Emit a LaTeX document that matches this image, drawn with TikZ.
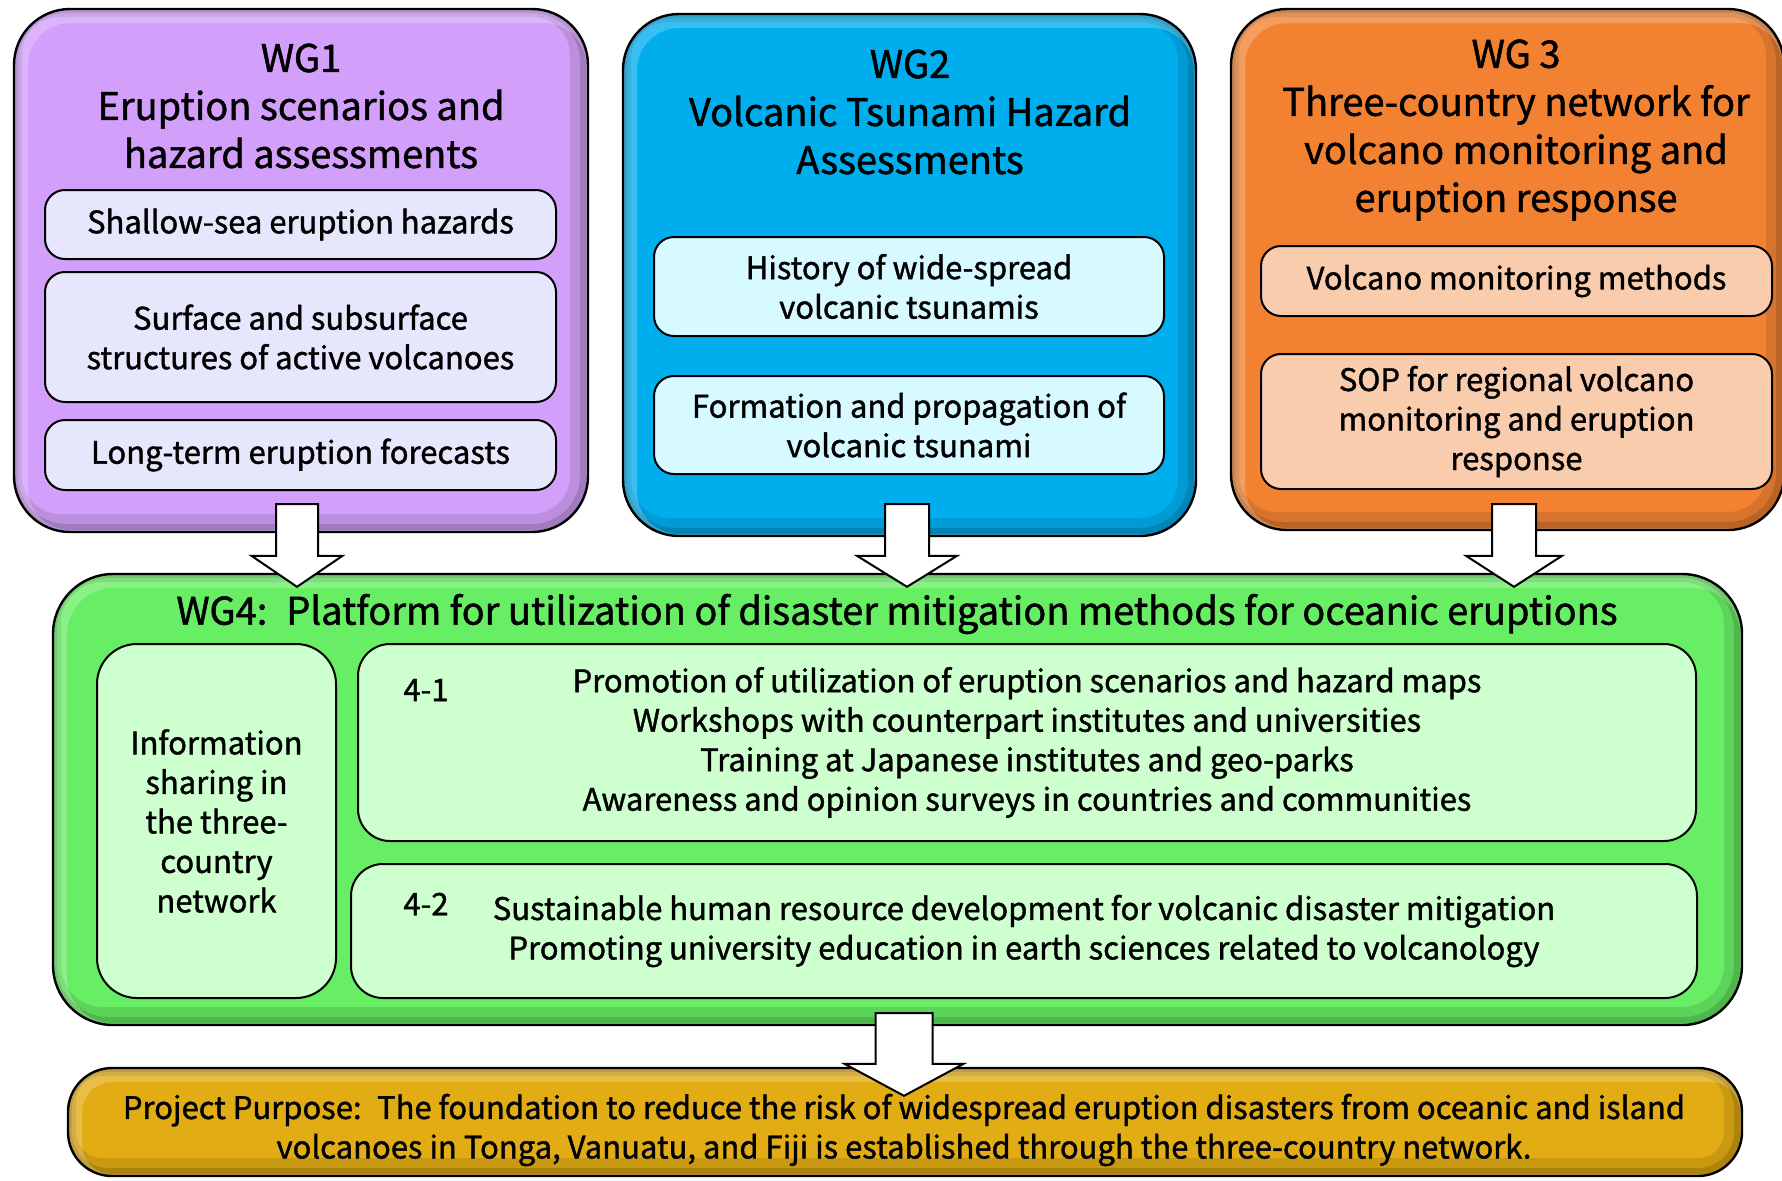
\documentclass[tikz,border=0pt]{standalone}
\usepackage{fontspec}
\setmainfont{Noto Sans CJK JP}[FakeBold=1.3]
\usetikzlibrary{positioning, calc}

\definecolor{wgpurple}{RGB}{210,160,250}
\definecolor{wgpurpleitem}{RGB}{230,230,252}
\definecolor{wgblue}{RGB}{0,174,238}
\definecolor{wgblueitem}{RGB}{214,250,255}
\definecolor{wgorange}{RGB}{242,130,50}
\definecolor{wgorangeitem}{RGB}{250,204,174}
\definecolor{wggreen}{RGB}{104,238,100}
\definecolor{wggreenitem}{RGB}{206,255,206}
\definecolor{purposegold}{RGB}{226,172,20}

\newcommand{\bodyfont}{\fontsize{15.5}{19.75}\selectfont}
\newcommand{\headfont}{\fontsize{19}{24}\selectfont}

\begin{document}
\begin{tikzpicture}[
    x=0.5pt, y=-0.5pt,
    wgbox/.style 2 args={rectangle, rounded corners=#2, draw=black, line width=1.2pt, fill=#1, inner sep=0pt,
      path picture={
        % dark rim along bottom and right, light rim along top and left
        \draw[#1!40!black, opacity=.18, line width=18pt, rounded corners=#2]
          ([xshift=-5pt]path picture bounding box.south west) rectangle ([yshift=5pt]path picture bounding box.north east);
        \draw[#1!40!black, opacity=.25, line width=8pt, rounded corners=#2]
          ([xshift=-2pt]path picture bounding box.south west) rectangle ([yshift=2pt]path picture bounding box.north east);
        \draw[white, opacity=.22, line width=14pt, rounded corners=#2]
          ([yshift=-6pt]path picture bounding box.south west) rectangle ([xshift=6pt]path picture bounding box.north east);
      }},
    item/.style={rectangle, rounded corners=10pt, draw=black, line width=1pt, fill=#1, inner sep=0pt, align=center, font=\bodyfont},
    wghead/.style={align=center, font=\headfont},
    note/.style={align=center, font=\bodyfont},
    fatarrow/.style n args={3}{draw=black, line width=1pt, fill=white, line join=miter,
      to path={let \p1=(\tikztostart), \p2=(\tikztotarget) in
        (\x1-#1,\y1) -- (\x1+#1,\y1) -- (\x1+#1,\y2+#3) -- (\x1+#2,\y2+#3) -- (\x1,\y2)
        -- (\x1-#2,\y2+#3) -- (\x1-#1,\y2+#3) -- cycle}}
  ]
  \useasboundingbox (0,0) rectangle (1782,1180);

  % Working group frames
  \node[wgbox={wgpurple}{28pt}, minimum width=287pt, minimum height=261.5pt] (wg1) at (301,270.5) {};
  \node[wgbox={wgblue}{28pt}, minimum width=286.5pt, minimum height=261pt] (wg2) at (909.5,275) {};
  \node[wgbox={wgorange}{28pt}, minimum width=276.5pt, minimum height=260.5pt] (wg3) at (1507.5,269.5) {};
  \node[wgbox={wggreen}{30pt}, minimum width=844.5pt, minimum height=225.5pt] (wg4) at (897.5,799.5) {};
  \node[wgbox={purposegold}{22pt}, minimum width=837pt, minimum height=54pt] (purpose) at (905,1122) {};

  % WG1
  \node[wghead] (wg1title) at (301,106) {WG1\\Eruption scenarios and\\hazard assessments};
  \node[item=wgpurpleitem, minimum width=255.5pt, minimum height=34.5pt] (hazards) at (300.5,224.5) {Shallow-sea eruption hazards};
  \node[item=wgpurpleitem, minimum width=255.5pt, minimum height=65pt, below=5.5pt of hazards] (structures) {Surface and subsurface\\structures of active volcanoes};
  \node[item=wgpurpleitem, minimum width=255.5pt, minimum height=35pt, below=8pt of structures] (forecasts) {Long-term eruption forecasts};

  % WG2
  \node[wghead] (wg2title) at (910,112) {WG2\\Volcanic Tsunami Hazard\\Assessments};
  \node[item=wgblueitem, minimum width=255pt, minimum height=49.5pt] (history) at (909,286.5) {History of wide-spread\\volcanic tsunamis};
  \node[item=wgblueitem, minimum width=255pt, minimum height=49pt, below=19pt of history] (formation) {Formation and propagation of\\volcanic tsunami};

  % WG3
  \node[wghead] (wg3title) at (1516,130) {WG 3\\Three-country network for\\volcano monitoring and\\eruption response};
  \node[item=wgorangeitem, minimum width=255.5pt, minimum height=35pt] (methods) at (1516.5,281) {Volcano monitoring methods};
  \node[item=wgorangeitem, minimum width=255.5pt, minimum height=67.5pt, below=18pt of methods] (sop) {SOP for regional volcano\\monitoring and eruption\\response};

  % WG4
  \node[wghead] (wg4title) at (897,614) {WG4:\enspace Platform for utilization of disaster mitigation methods for oceanic eruptions};
  \node[item=wggreenitem, rounded corners=20pt, minimum width=119.5pt, minimum height=177pt] (sharing) at (216.5,821) {Information\\sharing in\\the three-\\country\\network};
  \node[item=wggreenitem, rounded corners=16pt, minimum width=669pt, minimum height=98.5pt] (promotion) at (1027,742.5) {Promotion of utilization of eruption scenarios and hazard maps\\Workshops with counterpart institutes and universities\\Training at Japanese institutes and geo-parks\\Awareness and opinion surveys in countries and communities};
  \node[item=wggreenitem, rounded corners=16pt, minimum width=673pt, minimum height=67pt] (education) at (1024,931) {Sustainable human resource development for volcanic disaster mitigation\\Promoting university education in earth sciences related to volcanology};
  \node[note] (part1) at (426,690) {4-1};
  \node[note] (part2) at (426,904) {4-2};

  % Arrows
  \coordinate (a1s) at ($(wg1.south)+(-4,-29)$);
  \coordinate (a1e) at ($(a1s |- wg4.north)+(0,14)$);
  \coordinate (a2s) at ($(wg2.south)+(-2.5,-33)$);
  \coordinate (a2e) at ($(a2s |- wg4.north)+(0,14)$);
  \coordinate (a3s) at ($(wg3.south)+(6.5,-27)$);
  \coordinate (a3e) at ($(a3s |- wg4.north)+(0,14)$);
  \coordinate (a4s) at ($(wg4.south)+(6.5,-13)$);
  \coordinate (a4e) at ($(a4s |- purpose.north)+(0,29)$);
  \draw[fatarrow={10.5pt}{22.75pt}{15.5pt}] (a1s) to (a1e);
  \draw[fatarrow={11pt}{25pt}{15.5pt}] (a2s) to (a2e);
  \draw[fatarrow={11pt}{24pt}{15.5pt}] (a3s) to (a3e);
  \draw[fatarrow={14.25pt}{29.75pt}{16pt}] (a4s) to (a4e);

  % Project purpose
  \node[note] (purposetext) at (904,1130) {Project Purpose:\enspace The foundation to reduce the risk of widespread eruption disasters from oceanic and island\\volcanoes in Tonga, Vanuatu, and Fiji is established through the three-country network.};

\end{tikzpicture}
\end{document}
